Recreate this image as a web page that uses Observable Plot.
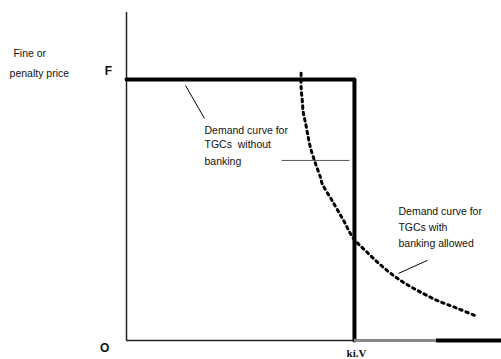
<!DOCTYPE html>
<html>
<head>
<meta charset="utf-8">
<script src="https://cdn.jsdelivr.net/npm/d3@7"></script>
<script src="https://cdn.jsdelivr.net/npm/@observablehq/plot@0.6"></script>
<style>
  html, body { margin: 0; padding: 0; background: #fff; }
  #chart { width: 501px; height: 359px; }
  svg { font-family: "Liberation Sans", Arial, sans-serif; }
</style>
</head>
<body>
<div id="chart"></div>
<script>
// Quantity in units of ki.V, price in units of the fine F
const stepDemandX = [0, 1, 1];
const stepDemandY = [1, 1, 0];
const bankingX = [0.766, 0.766, 0.771, 0.776, 0.785, 0.794, 0.807, 0.829, 0.851, 0.858, 0.902, 0.952, 0.996, 1.057, 1.127, 1.202, 1.276, 1.364, 1.452, 1.539];
const bankingY = [1.024, 0.970, 0.920, 0.870, 0.835, 0.793, 0.739, 0.678, 0.625, 0.602, 0.536, 0.460, 0.391, 0.337, 0.280, 0.230, 0.192, 0.153, 0.123, 0.092];
const xMax = 1.645;
const yMax = 1.257;

const stepData = stepDemandX.map((x, i) => ({x, y: stepDemandY[i]}));
const bankData = bankingX.map((x, i) => ({x, y: bankingY[i]}));

const chart = Plot.plot({
  width: 501,
  height: 359,
  marginLeft: 126,
  marginRight: 0,
  marginTop: 12,
  marginBottom: 19,
  x: {domain: [0, xMax], axis: null},
  y: {domain: [0, yMax], axis: null},
  marks: [
    // axes
    Plot.ruleX([0], {y1: 0, y2: yMax, stroke: "#222", strokeWidth: 1.5}),
    Plot.ruleY([0], {x1: 0, x2: xMax, stroke: "#222", strokeWidth: 1.5}),
    // demand without banking
    Plot.line(stepData, {x: "x", y: "y", stroke: "#000", strokeWidth: 4, strokeLinejoin: "round"}),
    Plot.ruleY([0], {x1: 1, x2: 1.36, stroke: "#888", strokeWidth: 3}),
    Plot.ruleY([0], {x1: 1.36, x2: xMax, stroke: "#000", strokeWidth: 4}),
    // demand with banking (dotted)
    Plot.line(bankData, {x: "x", y: "y", curve: "catmull-rom", stroke: "#000", strokeWidth: 3, strokeDasharray: "2.5,4"}),
    // leader lines
    Plot.link([{x1: 0.259, y1: 0.977, x2: 0.342, y2: 0.851}], {x1: "x1", y1: "y1", x2: "x2", y2: "y2", stroke: "#000", strokeWidth: 1}),
    Plot.link([{x1: 0.680, y1: 0.690, x2: 0.978, y2: 0.690}], {x1: "x1", y1: "y1", x2: "x2", y2: "y2", stroke: "#555", strokeWidth: 1}),
    Plot.link([{x1: 1.193, y1: 0.257, x2: 1.320, y2: 0.307}], {x1: "x1", y1: "y1", x2: "x2", y2: "y2", stroke: "#000", strokeWidth: 1}),
    // annotations
    Plot.text(["Demand curve for", "TGCs  without", "banking"], {x: 0.342, y: [0.805, 0.751, 0.686], text: d => d, textAnchor: "start", fontSize: 10.5, letterSpacing: "-0.5px", fill: "#111"}),
    Plot.text(["Demand curve for", "TGCs with", "banking allowed"], {x: 1.193, y: [0.494, 0.433, 0.372], text: d => d, textAnchor: "start", fontSize: 10.5, letterSpacing: "-0.5px", fill: "#111"}),
    Plot.text(["Fine or", "penalty price"], {x: [-0.496, -0.513], y: [1.100, 1.023], text: d => d, textAnchor: "start", fontSize: 10.5, letterSpacing: "-0.5px", fill: "#111"}),
    Plot.text(["F"], {x: -0.079, y: 1.034, text: d => d, fontSize: 12, fontWeight: "bold", fill: "#111"}),
    Plot.text(["O"], {x: -0.096, y: -0.031, text: d => d, fontSize: 12, fontWeight: "bold", fill: "#111"}),
    Plot.text(["ki.V"], {x: 1.009, y: -0.050, text: d => d, fontSize: 11, fontWeight: "bold", fontFamily: "Liberation Serif, Times New Roman, serif", fill: "#111"})
  ]
});
document.getElementById("chart").appendChild(chart);
</script>
</body>
</html>
